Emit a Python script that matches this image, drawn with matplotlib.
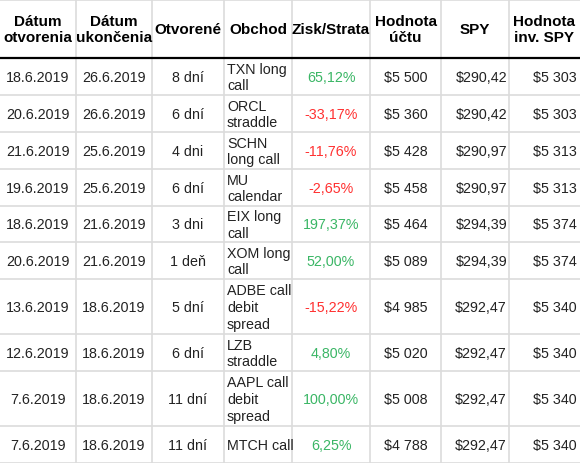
import matplotlib.pyplot as plt

# table data
headers = ["Dátum\notvorenia", "Dátum\nukončenia", "Otvorené", "Obchod",
           "Zisk/Strata", "Hodnota\núčtu", "SPY", "Hodnota\ninv. SPY"]
open_dates = ["18.6.2019", "20.6.2019", "21.6.2019", "19.6.2019", "18.6.2019",
              "20.6.2019", "13.6.2019", "12.6.2019", "7.6.2019", "7.6.2019"]
close_dates = ["26.6.2019", "26.6.2019", "25.6.2019", "25.6.2019", "21.6.2019",
               "21.6.2019", "18.6.2019", "18.6.2019", "18.6.2019", "18.6.2019"]
durations = ["8 dní", "6 dní", "4 dni", "6 dní", "3 dni",
             "1 deň", "5 dní", "6 dní", "11 dní", "11 dní"]
trades = ["TXN long\ncall", "ORCL\nstraddle", "SCHN\nlong call", "MU\ncalendar",
          "EIX long\ncall", "XOM long\ncall", "ADBE call\ndebit\nspread",
          "LZB\nstraddle", "AAPL call\ndebit\nspread", "MTCH call"]
pnl = [65.12, -33.17, -11.76, -2.65, 197.37, 52.00, -15.22, 4.80, 100.00, 6.25]
account = [5500, 5360, 5428, 5458, 5464, 5089, 4985, 5020, 5008, 4788]
spy = [290.42, 290.42, 290.97, 290.97, 294.39, 294.39, 292.47, 292.47, 292.47, 292.47]
spy_value = [5303, 5303, 5313, 5313, 5374, 5374, 5340, 5340, 5340, 5340]

# layout (pixels)
col_edges = [0, 76, 152, 224, 292, 370, 441, 509, 580]
header_h = 58
row_h = [37, 37, 37, 37, 36, 37, 55, 37, 55, 37]

GREEN = "#3ab665"
RED = "#ff3030"
TEXT = "#222222"
GRID = "#dcdcdc"


def money(v):
    return "$" + f"{v:,}".replace(",", " ")


def pct(v):
    return f"{v:.2f}%".replace(".", ",")


fig = plt.figure(figsize=(5.8, 4.64), dpi=100)
ax = fig.add_axes([0, 0, 1, 1])
ax.set_xlim(0, 580)
ax.set_ylim(464, 0)
ax.axis("off")

# row edges
y_edges = [1, 1 + header_h]
for h in row_h:
    y_edges.append(y_edges[-1] + h)

# grid
for x in col_edges[1:-1]:
    ax.plot([x, x], [0, 464], color=GRID, lw=1.2, solid_capstyle="butt")
ax.plot([0, 580], [y_edges[0], y_edges[0]], color=GRID, lw=1.2)
for y in y_edges[2:]:
    ax.plot([0, 580], [y, y], color=GRID, lw=1.2)
ax.plot([0, 580], [y_edges[1], y_edges[1]], color="black", lw=1.6)

# header
yc = (y_edges[0] + y_edges[1]) / 2
for i, h in enumerate(headers):
    xc = (col_edges[i] + col_edges[i + 1]) / 2
    ax.text(xc, yc, h, ha="center", va="center", multialignment="center",
            fontsize=11, fontweight="bold", family="Liberation Sans",
            color="black", linespacing=1.18)

# body
kw = dict(fontsize=10.3, family="Liberation Sans", va="center", linespacing=1.27)
for r in range(len(open_dates)):
    yc = (y_edges[r + 1] + y_edges[r + 2]) / 2 + 0.5
    cells = [open_dates[r], close_dates[r], durations[r]]
    for c, t in enumerate(cells):
        xc = (col_edges[c] + col_edges[c + 1]) / 2
        ax.text(xc, yc, t, ha="center", color=TEXT, **kw)
    ax.text(col_edges[3] + 3, yc, trades[r], ha="left", color=TEXT, **kw)
    ax.text((col_edges[4] + col_edges[5]) / 2, yc, pct(pnl[r]), ha="center",
            color=GREEN if pnl[r] >= 0 else RED, **kw)
    ax.text((col_edges[5] + col_edges[6]) / 2, yc, money(account[r]),
            ha="center", color=TEXT, **kw)
    ax.text(col_edges[7] - 2, yc, "$" + f"{spy[r]:.2f}".replace(".", ","),
            ha="right", color=TEXT, **kw)
    ax.text(col_edges[8] - 3, yc, money(spy_value[r]), ha="right",
            color=TEXT, **kw)

fig.savefig("out.png", dpi=100)
